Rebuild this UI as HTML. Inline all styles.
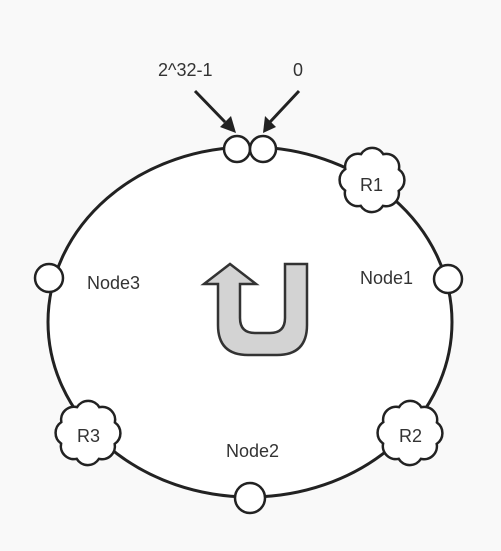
<!DOCTYPE html>
<html><head><meta charset="utf-8"><style>
html,body{margin:0;padding:0;background:#f9f9f9;}
svg{display:block;}
text{font-family:"Liberation Sans",sans-serif;font-size:18px;fill:#333;}
</style></head><body>
<svg id="s" width="501" height="551" viewBox="0 0 501 551" xmlns="http://www.w3.org/2000/svg">
<rect width="501" height="551" fill="#f9f9f9"/>
<ellipse cx="250" cy="322" rx="202" ry="175" fill="#fff" stroke="#222" stroke-width="3"/>
<path d="M218,284 L204,284 L230,264 L256,284 L240,284 L240,318 Q240,333 255,333 L270,333 Q285,333 285,318 L285,264 L307,264 L307,325 Q307,355 277,355 L248,355 Q218,355 218,325 Z" fill="#d3d3d3" stroke="#333" stroke-width="2.5" stroke-linejoin="miter"/>
<g stroke="#222" stroke-width="3" fill="none">
<line x1="195" y1="91" x2="225" y2="122"/>
<line x1="299" y1="91" x2="270" y2="122"/>
</g>
<polygon points="236,133 220,127 231,116" fill="#222"/>
<polygon points="263,133 265,116 276,127" fill="#222"/>
<g fill="#fff" stroke="#222" stroke-width="2.5">
<circle cx="237" cy="149" r="13"/>
<circle cx="263" cy="149" r="13"/>
<circle cx="49" cy="278" r="14"/>
<circle cx="448" cy="279" r="14"/>
<circle cx="250" cy="498" r="15"/>
</g>
<g id="clouds" fill="#fff" stroke="#222" stroke-width="2.5"></g>
<text x="158" y="76">2^32-1</text>
<text x="293" y="76">0</text>
<text x="87" y="289">Node3</text>
<text x="360" y="284">Node1</text>
<text x="226" y="457">Node2</text>
<text x="360" y="191">R1</text>
<text x="399" y="442">R2</text>
<text x="77" y="442">R3</text>
</svg>
<script>
function cloud(cx,cy,rx,ry){var n=8,p='';for(var i=0;i<=n;i++){var a=i/n*2*Math.PI+0.4;var x=cx+rx*Math.cos(a),y=cy+ry*Math.sin(a);if(i==0)p+='M'+x.toFixed(1)+','+y.toFixed(1);else p+=' A13,13 0 0 1 '+x.toFixed(1)+','+y.toFixed(1);}return p+'Z';}
var g=document.getElementById('clouds');
[[372,180],[410,433],[88,433]].forEach(function(c){var e=document.createElementNS('http://www.w3.org/2000/svg','path');e.setAttribute('d',cloud(c[0],c[1],29,28));g.appendChild(e);});
</script>
</body></html>
